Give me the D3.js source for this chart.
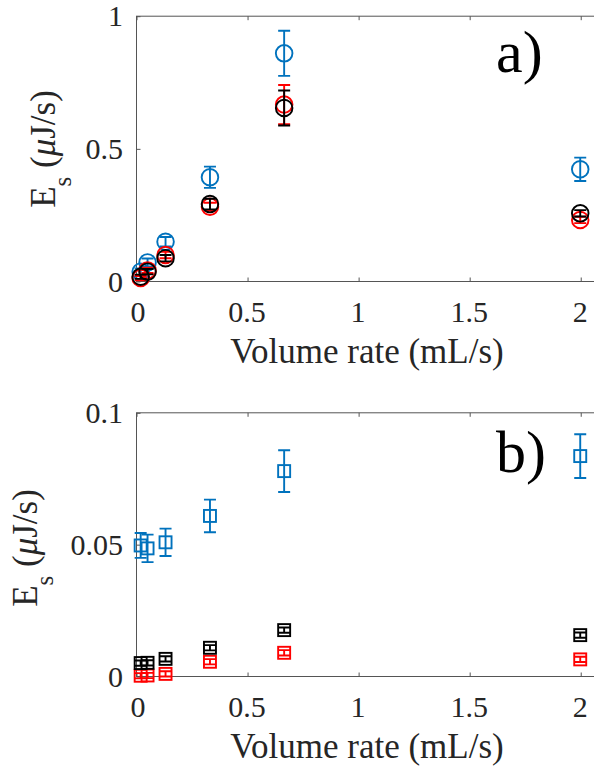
<!DOCTYPE html>
<html>
<head>
<meta charset="utf-8">
<script src="https://cdn.jsdelivr.net/npm/d3@7"></script>
</head>
<body style="margin:0">
<div id="chart"></div>
<script>
// volume rates (mL/s)
var xVals = [0.021, 0.052, 0.133, 0.333, 0.667, 2];
var xTicks = [0, 0.5, 1, 1.5, 2];

// panel a) circles
var blueA = [0.035, 0.07, 0.148, 0.391, 0.858, 0.421];
var blueAErr = [0.012, 0.015, 0.018, 0.04, 0.085, 0.044];
var redA = [0.011, 0.04, 0.098, 0.28, 0.665, 0.23];
var redAErr = [0.008, 0.01, 0.012, 0.015, 0.074, 0.012];
var blackA = [0.016, 0.035, 0.086, 0.29, 0.652, 0.255];
var blackAErr = [0.008, 0.01, 0.012, 0.02, 0.066, 0.012];
var yTicksA = [0, 0.5, 1];

// panel b) squares
var blueB = [0.0495, 0.0484, 0.0507, 0.0607, 0.0777, 0.0834];
var blueBErr = [0.0047, 0.0052, 0.0052, 0.0062, 0.0079, 0.0083];
var blackB = [0.0049, 0.005, 0.0065, 0.0107, 0.0174, 0.0155];
var blackBErr = [0.001, 0.001, 0.001, 0.001, 0.001, 0.001];
var redB = [0.0001, 0.0002, 0.0008, 0.0054, 0.0088, 0.0063];
var redBErr = [0.001, 0.001, 0.001, 0.001, 0.001, 0.001];
var yTicksB = [0, 0.05, 0.1];

var svgWidth = 594;
var svgHeight = 768;
var fontName = "Liberation Serif";

var svg = d3.select("#chart")
  .append("svg")
  .attr("width", svgWidth)
  .attr("height", svgHeight)
  .attr("font-family", fontName);

var colors = { blue: "#0072BD", red: "#FF0000", black: "#000000" };

// shared x scale, right edge of the box falls off the picture
var xScale = d3.scaleLinear().domain([0, 2.08]).range([136, 598]);

function drawPanel(cfg) {
  var yScale = d3.scaleLinear().domain(cfg.yDomain).range([cfg.bottom, cfg.top]);
  var g = svg.append("g");

  // box
  g.append("rect")
    .attr("x", xScale(0) + 0.5)
    .attr("y", cfg.top + 0.5)
    .attr("width", xScale.range()[1] - xScale(0))
    .attr("height", cfg.bottom - cfg.top)
    .attr("fill", "none")
    .attr("stroke", "#555")
    .attr("stroke-width", 1);

  // inward ticks on bottom/top and left
  var bottomAxis = d3.axisBottom(xScale).tickValues(xTicks).tickSize(-4).tickFormat("");
  var topAxis = d3.axisTop(xScale).tickValues(xTicks).tickSize(-4).tickFormat("");
  var leftAxis = d3.axisLeft(yScale).tickValues(cfg.yTicks).tickSize(-4).tickFormat("");
  [[bottomAxis, `translate(0.5, ${cfg.bottom + 0.5})`],
   [topAxis, `translate(0.5, ${cfg.top + 0.5})`],
   [leftAxis, `translate(${xScale(0) + 0.5}, 0.5)`]].forEach(function(a) {
    var ax = g.append("g").attr("transform", a[1]).call(a[0]);
    ax.select(".domain").remove();
    ax.selectAll("line").attr("stroke", "#555");
  });

  // tick labels
  g.selectAll(".xlab")
    .data(xTicks)
    .enter()
    .append("text")
    .attr("x", d => xScale(d) + (d === 0 ? 2 : 0))
    .attr("y", cfg.bottom + 41)
    .attr("text-anchor", "middle")
    .attr("font-size", 30)
    .attr("font-family", fontName)
    .attr("fill", "#262626")
    .text(d => d);

  g.selectAll(".ylab")
    .data(cfg.yTicks)
    .enter()
    .append("text")
    .attr("x", 123)
    .attr("y", d => yScale(d))
    .attr("dy", "0.35em")
    .attr("text-anchor", "end")
    .attr("font-size", 30)
    .attr("font-family", fontName)
    .attr("fill", "#262626")
    .text(d => d);

  // axis labels
  g.append("text")
    .attr("x", 367)
    .attr("y", cfg.bottom + 82)
    .attr("text-anchor", "middle")
    .attr("font-size", 35)
    .attr("font-family", fontName)
    .attr("fill", "#262626")
    .text("Volume rate (mL/s)");

  var yl = g.append("text")
    .attr("transform", `translate(${cfg.yLabelX}, ${cfg.yLabelY}) rotate(-90)`)
    .attr("text-anchor", "middle")
    .attr("font-size", 35)
    .attr("font-family", fontName)
    .attr("fill", "#262626");
  yl.append("tspan").text("E");
  yl.append("tspan").attr("font-size", 25).attr("dy", 16).text("s");
  yl.append("tspan").attr("dy", -16).text(" (");
  yl.append("tspan").attr("font-style", "italic").text("\u03BC");
  yl.append("tspan").text("J/s)");

  // panel letter
  g.append("text")
    .attr("x", 496)
    .attr("y", cfg.letterY)
    .attr("font-size", 60)
    .attr("font-family", fontName)
    .attr("fill", "#000")
    .text(cfg.letter);

  // series
  cfg.series.forEach(function(s) {
    var sg = g.append("g")
      .attr("stroke", colors[s.color])
      .attr("stroke-width", 1.9)
      .attr("fill", "none");
    var pts = xVals.map((x, i) => ({ x: x, y: s.values[i], e: s.errs[i] }));

    // error bars
    sg.selectAll(".err")
      .data(pts)
      .enter()
      .append("path")
      .attr("d", function(d) {
        var cx = xScale(d.x), y1 = yScale(d.y + d.e), y2 = yScale(d.y - d.e);
        return `M${cx - 6},${y1}H${cx + 6}M${cx},${y1}V${y2}M${cx - 6},${y2}H${cx + 6}`;
      });

    if (cfg.marker === "circle") {
      sg.selectAll(".mk")
        .data(pts)
        .enter()
        .append("circle")
        .attr("cx", d => xScale(d.x))
        .attr("cy", d => yScale(d.y))
        .attr("r", 8.3);
    } else {
      sg.selectAll(".mk")
        .data(pts)
        .enter()
        .append("rect")
        .attr("x", d => xScale(d.x) - 6)
        .attr("y", d => yScale(d.y) - 6)
        .attr("width", 12)
        .attr("height", 12);
    }
  });
}

drawPanel({
  top: 15.7, bottom: 281, yDomain: [0, 1], yTicks: yTicksA,
  yLabelX: 55, yLabelY: 149, letter: "a)", letterY: 72, marker: "circle",
  series: [
    { color: "blue", values: blueA, errs: blueAErr },
    { color: "red", values: redA, errs: redAErr },
    { color: "black", values: blackA, errs: blackAErr }
  ]
});

drawPanel({
  top: 412.3, bottom: 676, yDomain: [0, 0.1], yTicks: yTicksB,
  yLabelX: 37, yLabelY: 548, letter: "b)", letterY: 472, marker: "square",
  series: [
    { color: "blue", values: blueB, errs: blueBErr },
    { color: "red", values: redB, errs: redBErr },
    { color: "black", values: blackB, errs: blackBErr }
  ]
});
</script>
</body>
</html>
